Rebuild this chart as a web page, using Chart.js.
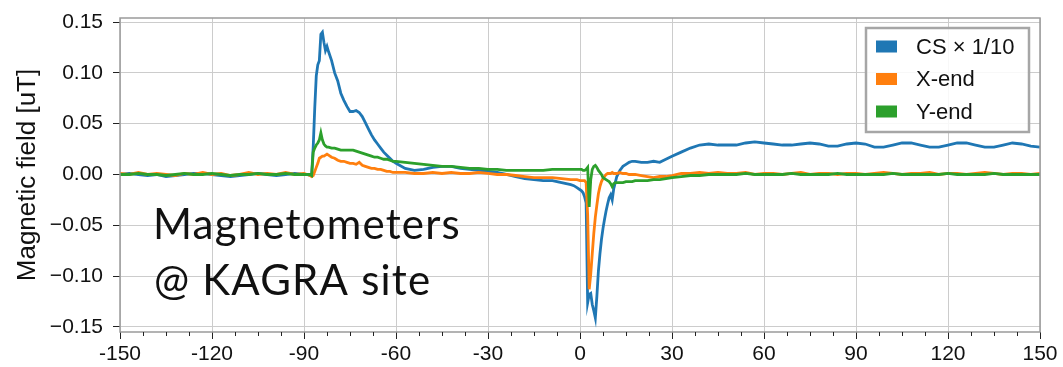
<!DOCTYPE html>
<html>
<head>
<meta charset="utf-8">
<title>Magnetometers</title>
<script src="https://cdn.jsdelivr.net/npm/chart.js@4.4.1/dist/chart.umd.min.js"></script>
<style>
  html, body { margin: 0; padding: 0; background: #fff; }
</style>
</head>
<body>
<canvas id="magChart" width="1063" height="367"></canvas>
<script>
// time axis [s], shared by all three magnetometers
const time = [
  -150, -147, -144, -141, -138, -135, -132, -129, -126, -123, -120, -117, -114, -111, -108, -105, -102, -99, -96, -93, -90,
  -89, -88, -87.5, -87, -86.5, -86, -85.5, -85, -84.5, -84, -83.5, -83, -82.5, -82, -81, -80, -79, -78, -77, -76,
  -75, -74, -73, -72, -71, -70, -69, -68, -67, -66, -65, -64, -63, -62, -61, -60,
  -57, -54, -51, -48, -45, -42, -39, -36, -33, -30, -27, -24, -21, -18, -15, -12, -9, -6, -3,
  -2, -1, 0, 0.5, 1, 1.5, 2, 2.5, 3, 3.5, 4, 4.5, 5, 5.5, 6, 6.5, 7, 7.5, 8, 8.5, 9, 9.5, 10, 10.5, 11, 11.5, 12,
  13, 14, 15, 16, 17, 18, 20, 22, 24, 26, 28, 30,
  33, 36, 39, 42, 45, 48, 51, 54, 57, 60, 63, 66, 69, 72, 75, 78, 81, 84, 87, 90,
  93, 96, 99, 102, 105, 108, 111, 114, 117, 120, 123, 126, 129, 132, 135, 138, 141, 144, 147, 150
];

// central station, already scaled by 1/10 [uT]
const csField = [
  0.000, 0.001, 0.000, -0.001, 0.000, -0.002, -0.001, 0.000, 0.001, 0.001, 0.000, -0.001, -0.002, -0.001, 0.000, 0.001, 0.000, -0.001, 0.000, 0.001, 0.000,
  0.000, -0.001, 0.000, 0.027, 0.065, 0.097, 0.108, 0.112, 0.138, 0.140, 0.130, 0.122, 0.126, 0.121, 0.112, 0.100, 0.092, 0.080, 0.073, 0.067,
  0.062, 0.062, 0.063, 0.061, 0.057, 0.051, 0.045, 0.039, 0.034, 0.030, 0.026, 0.022, 0.019, 0.016, 0.013, 0.011,
  0.006, 0.004, 0.005, 0.007, 0.008, 0.008, 0.006, 0.005, 0.004, 0.003, 0.002, 0.000, -0.002, -0.004, -0.005, -0.006, -0.006, -0.008, -0.010,
  -0.011, -0.013, -0.015, -0.016, -0.018, -0.022, -0.028, -0.126, -0.118, -0.117, -0.128, -0.134, -0.141, -0.120, -0.095, -0.078, -0.064, -0.053, -0.044, -0.036, -0.029, -0.023, -0.020, -0.025, -0.014, -0.008, -0.002,
  0.004, 0.008, 0.010, 0.012, 0.013, 0.013, 0.012, 0.012, 0.013, 0.012, 0.015, 0.018,
  0.022, 0.026, 0.029, 0.030, 0.029, 0.029, 0.029, 0.031, 0.032, 0.031, 0.030, 0.029, 0.029, 0.030, 0.031, 0.030, 0.028, 0.028, 0.030, 0.031,
  0.030, 0.027, 0.027, 0.029, 0.031, 0.031, 0.029, 0.027, 0.027, 0.029, 0.031, 0.031, 0.029, 0.027, 0.027, 0.029, 0.031, 0.030, 0.028, 0.027
];

const xEndField = [
  0.001, 0.000, 0.002, 0.000, 0.001, 0.000, -0.001, 0.001, 0.000, 0.002, 0.000, 0.001, -0.001, 0.000, 0.002, 0.000, 0.001, 0.000, 0.002, 0.000, 0.001,
  0.000, -0.001, -0.002, -0.001, 0.003, 0.007, 0.011, 0.016, 0.017, 0.018, 0.018, 0.019, 0.020, 0.019, 0.017, 0.016, 0.014, 0.013, 0.013, 0.012,
  0.011, 0.011, 0.010, 0.012, 0.009, 0.008, 0.007, 0.006, 0.006, 0.005, 0.005, 0.004, 0.003, 0.003, 0.002, 0.002,
  0.002, 0.001, 0.001, 0.002, 0.001, 0.002, 0.001, 0.001, 0.002, 0.001, 0.000, 0.000, -0.001, -0.002, -0.003, -0.003, -0.003, -0.004, -0.005,
  -0.005, -0.005, -0.006, -0.006, -0.006, -0.006, -0.008, -0.040, -0.113, -0.098, -0.078, -0.058, -0.042, -0.030, -0.019, -0.012, -0.007, -0.004, -0.002, 0.000, 0.001, 0.001, 0.001, 0.002, 0.001, 0.001, 0.001,
  0.002, 0.001, 0.001, 0.000, 0.000, 0.000, -0.001, -0.002, -0.003, -0.002, -0.002, -0.001,
  0.001, 0.001, 0.002, 0.001, 0.002, 0.001, 0.001, 0.002, 0.000, 0.001, 0.001, 0.000, 0.001, 0.002, 0.000, 0.001, 0.001, 0.000, 0.001, 0.001,
  0.000, 0.001, 0.002, 0.001, 0.000, 0.001, 0.001, 0.002, 0.000, 0.001, 0.001, 0.000, 0.001, 0.002, 0.001, 0.000, 0.001, 0.001, 0.000, 0.001
];

const yEndField = [
  0.000, 0.000, 0.001, 0.000, 0.000, -0.001, 0.000, 0.001, 0.000, 0.000, 0.001, 0.000, -0.001, 0.000, 0.000, 0.001, 0.000, 0.000, 0.001, 0.000, 0.000,
  0.000, 0.000, -0.001, 0.022, 0.026, 0.029, 0.031, 0.034, 0.041, 0.034, 0.030, 0.028, 0.027, 0.027, 0.026, 0.026, 0.025, 0.024, 0.024, 0.024,
  0.024, 0.024, 0.023, 0.022, 0.021, 0.020, 0.019, 0.018, 0.017, 0.017, 0.016, 0.015, 0.015, 0.014, 0.013, 0.013,
  0.012, 0.011, 0.010, 0.009, 0.008, 0.008, 0.007, 0.006, 0.006, 0.005, 0.005, 0.004, 0.004, 0.004, 0.004, 0.004, 0.005, 0.005, 0.005,
  0.005, 0.005, 0.005, 0.005, 0.004, 0.004, 0.005, 0.007, -0.032, -0.005, 0.005, 0.008, 0.009, 0.007, 0.004, 0.002, 0.000, -0.003, -0.004, -0.005, -0.006, -0.007, -0.009, -0.012, -0.009, -0.008, -0.008,
  -0.008, -0.008, -0.007, -0.007, -0.007, -0.006, -0.006, -0.006, -0.005, -0.005, -0.004, -0.003,
  -0.002, -0.001, -0.001, 0.000, 0.000, 0.000, 0.000, 0.001, 0.000, 0.000, 0.000, 0.000, 0.001, 0.000, 0.000, 0.000, 0.000, 0.001, 0.000, 0.000,
  0.000, 0.000, 0.000, 0.001, 0.000, 0.000, 0.000, 0.000, 0.000, 0.001, 0.000, 0.000, 0.000, 0.000, 0.001, 0.000, 0.000, 0.000, 0.000, 0.000
];

const seriesLabels = ["CS \u00d7 1/10", "X-end", "Y-end"];
const seriesColors = ["#1f77b4", "#ff7f0e", "#2ca02c"];
const yTickValues = [-0.15, -0.1, -0.05, 0, 0.05, 0.1, 0.15];
const noteLines = ["Magnetometers", "@ KAGRA site"];

const TEXT_FONT = "'Liberation Sans', Arial, sans-serif";
Chart.defaults.font.family = TEXT_FONT;
Chart.defaults.color = "#111";

function toPoints(values) {
  return time.map((t, i) => ({ x: t, y: values[i] }));
}

// box round the plotting area plus short minor ticks under the x axis
const framePlugin = {
  id: "frame",
  afterDatasetsDraw(chart) {
    const { ctx, chartArea: a, scales } = chart;
    ctx.save();
    ctx.strokeStyle = "#9a9a9a";
    ctx.lineWidth = 1.5;
    ctx.strokeRect(a.left, a.top, a.right - a.left, a.bottom - a.top);

    ctx.strokeStyle = "#222";
    ctx.lineWidth = 1;
    for (let v = -150; v <= 150; v += 7.5) {
      if (v % 30 === 0) continue;
      const px = Math.round(scales.x.getPixelForValue(v)) + 0.5;
      ctx.beginPath();
      ctx.moveTo(px, a.bottom);
      ctx.lineTo(px, a.bottom + 4);
      ctx.stroke();
    }
    ctx.restore();
  },
};

// legend box in the top right corner of the plot
const boxLegendPlugin = {
  id: "boxLegend",
  afterDraw(chart) {
    const { ctx, chartArea: a } = chart;
    const w = 163, h = 104;
    const x0 = a.right - 11 - w;
    const y0 = a.top + 10;
    ctx.save();
    ctx.fillStyle = "rgba(255,255,255,0.85)";
    ctx.fillRect(x0, y0, w, h);
    ctx.strokeStyle = "#a6a6a6";
    ctx.lineWidth = 2.5;
    ctx.strokeRect(x0, y0, w, h);
    ctx.font = "22px " + TEXT_FONT;
    ctx.textBaseline = "middle";
    chart.data.datasets.forEach((ds, i) => {
      const cy = y0 + 18.5 + i * 32.5;
      ctx.fillStyle = ds.borderColor;
      ctx.fillRect(x0 + 10, cy - 6, 21, 12);
      ctx.fillStyle = "#111";
      ctx.fillText(ds.label, x0 + 50, cy + 1);
    });
    ctx.restore();
  },
};

// large caption written over the lower left of the plot
const notePlugin = {
  id: "note",
  afterDraw(chart) {
    const { ctx, chartArea: a } = chart;
    ctx.save();
    ctx.font = "42px Lato, 'Open Sans', sans-serif";
    ctx.letterSpacing = "1.2px";
    ctx.fillStyle = "#111";
    ctx.textBaseline = "alphabetic";
    ctx.fillText(noteLines[0], a.left + 33, 239);
    ctx.fillText(noteLines[1], a.left + 34, 295);
    ctx.restore();
  },
};

const ctx = document.getElementById("magChart").getContext("2d");
const chart = new Chart(ctx, {
  type: "line",
  data: {
    datasets: [
      {
        label: seriesLabels[0],
        data: toPoints(csField),
        borderColor: seriesColors[0],
        order: 3,
      },
      {
        label: seriesLabels[1],
        data: toPoints(xEndField),
        borderColor: seriesColors[1],
        order: 2,
      },
      {
        label: seriesLabels[2],
        data: toPoints(yEndField),
        borderColor: seriesColors[2],
        order: 1,
      },
    ],
  },
  options: {
    responsive: false,
    animation: false,
    devicePixelRatio: 1,
    layout: { padding: { top: 18, right: 23, left: 0, bottom: 0 } },
    elements: {
      line: { borderWidth: 2.8, tension: 0, fill: false },
      point: { radius: 0 },
    },
    plugins: {
      legend: { display: false },
      tooltip: { enabled: false },
    },
    scales: {
      x: {
        type: "linear",
        min: -150,
        max: 150,
        border: { display: false },
        grid: {
          color: "#cccccc",
          tickColor: "#222",
          tickLength: 7,
          lineWidth: 1,
        },
        ticks: {
          stepSize: 30,
          autoSkip: false,
          maxRotation: 0,
          padding: 3,
          color: "#111",
          font: { size: 21 },
        },
        afterFit: (scale) => {
          scale.height = 35;
        },
      },
      y: {
        min: -0.155,
        max: 0.154,
        border: { display: false },
        afterBuildTicks: (scale) => {
          scale.ticks = yTickValues.map((v) => ({ value: v }));
        },
        grid: {
          color: "#cccccc",
          tickColor: "#222",
          tickLength: 7,
          lineWidth: 1,
        },
        ticks: {
          padding: 10,
          color: "#111",
          font: { size: 21 },
          callback: (v) => v.toFixed(2).replace("-", "\u2212"),
        },
        title: {
          display: true,
          text: "Magnetic field [uT]",
          color: "#111",
          font: { size: 26 },
          padding: { top: 12, bottom: 0 },
        },
        afterFit: (scale) => {
          scale.width = 120;
          // the layout padding alone sets the top and bottom edges
          scale.paddingTop = 0;
          scale.paddingBottom = 0;
        },
      },
    },
  },
  plugins: [framePlugin, boxLegendPlugin, notePlugin],
});
</script>
</body>
</html>
